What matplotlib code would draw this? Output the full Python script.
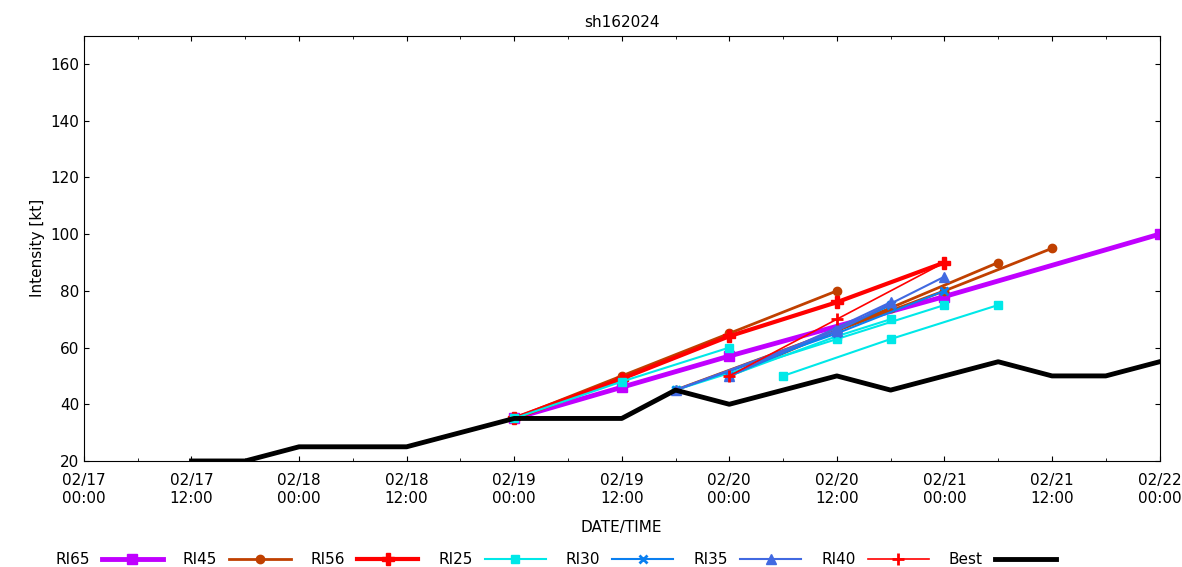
import matplotlib
matplotlib.use("Agg")
import matplotlib.pyplot as plt
import numpy as np

# hours from 02/17 00:00
best_t = [12,18,24,30,36,42,48,54,60,66,72,78,84,90,96,102,108,114,120]
best_v = [20,20,25,25,25,30,35,35,35,45,40,45,50,45,50,55,50,50,55]

ri65 = [([48,60,72,96,120],[35,46,57,78,100])]
ri45 = [([48,60,72,84],[35,50,65,80]), ([66,84,96,108],[45,66,80,95]), ([72,90,102],[50,74,90])]
ri56 = [([48,60,72,84,96],[35,49,64,76,90])]
ri25 = [([48,60,72],[35,48,60]), ([66,84,96],[45,63,75]), ([72,84,90],[50,64,70]), ([78,90,102],[50,63,75])]
ri30 = [([66,84,96],[45,65,80]), ([72,84,90],[50,66,75])]
ri35 = [([66,84,96],[45,66,85]), ([72,84,90],[50,67,76])]
ri40 = [([72,84,96],[50,70,90])]

xticks = list(range(0,121,12))
xlabels = ["02/17\n00:00","02/17\n12:00","02/18\n00:00","02/18\n12:00","02/19\n00:00","02/19\n12:00",
           "02/20\n00:00","02/20\n12:00","02/21\n00:00","02/21\n12:00","02/22\n00:00"]

fig = plt.figure(figsize=(11.82,5.67), dpi=100)
ax = fig.add_axes([0.071,0.187,0.91,0.75])

styles = [("RI65", ri65, "#c000ff", 3.5, "s", 7),
          ("RI45", ri45, "#c04000", 2.0, "o", 6),
          ("RI56", ri56, "#ff0000", 3.0, "P", 8),
          ("RI25", ri25, "#00e8e8", 1.5, "s", 6),
          ("RI30", ri30, "#0a7ff0", 1.5, "x", 6),
          ("RI35", ri35, "#4169e1", 1.5, "^", 7),
          ("RI40", ri40, "#ff0000", 1.2, "+", 8)]
for name, segs, c, lw, m, ms in styles:
    for i,(t,v) in enumerate(segs):
        ax.plot(t, v, color=c, lw=lw, marker=m, ms=ms, mew=2 if m in "x+" else 1,
                label=name if i == 0 else None)
ax.plot(best_t, best_v, color="black", lw=3.5, label="Best")

ax.set_xlim(0,120); ax.set_ylim(20,170)
ax.set_xticks(xticks); ax.set_xticklabels(xlabels, fontsize=11)
ax.set_yticks(range(20,161,20)); ax.tick_params(labelsize=11, direction="in", top=True, right=True)
ax.tick_params(axis="x", pad=9)
ax.set_xticks(range(0,121,6), minor=True)
ax.tick_params(which="minor", direction="in", top=True)
ax.set_xlabel("DATE/TIME", fontsize=11, labelpad=10)
ax.set_ylabel("Intensity [kt]", fontsize=11)
ax.set_title("sh162024", fontsize=11)
fig.legend(loc="lower left", bbox_to_anchor=(0.035,-0.025), ncol=8, frameon=False, markerfirst=False,
           fontsize=11, handlelength=4, columnspacing=1.3)
fig.savefig("out.png", dpi=100)
